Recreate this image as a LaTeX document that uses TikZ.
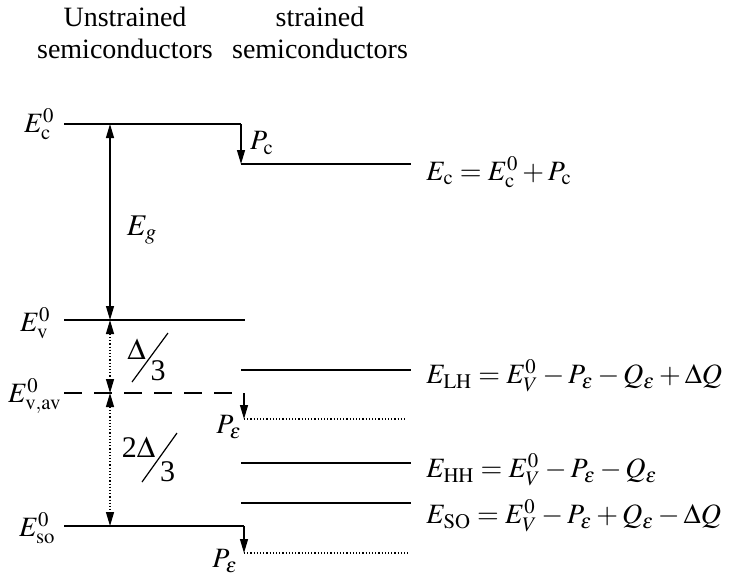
\documentclass[tikz,border=0pt]{standalone}
\usepackage{mathptmx}
\usepackage{fontspec}
\setmainfont{Liberation Serif}
\usetikzlibrary{arrows.meta}

\begin{document}
\begin{tikzpicture}[x=0.5pt,y=-0.5pt,>={Triangle[length=7pt,width=4pt]},
 band/.style={line width=1pt},
 pshift/.style={line width=.6pt,->},
 dotline/.style={line width=.6pt,densely dotted},
 hdr/.style={align=center,font=\fontsize{14}{16}\selectfont,inner sep=0pt},
 lbl/.style={font=\fontsize{14}{16}\selectfont,inner sep=0pt},
 big/.style={font=\fontsize{15}{17}\selectfont,inner sep=0pt},
 eqn/.style={lbl,anchor=west}]
\useasboundingbox (0,0) rectangle (753,579);
\node[hdr] (unstr) at (125,33) {Unstrained\\semiconductors};
\node[hdr] (str) at (320,33) {strained\\semiconductors};
% unstrained levels
\coordinate (c0L) at (64,124); \coordinate (c0R) at (241,124);
\coordinate (v0L) at (64,320); \coordinate (v0R) at (245,320);
\coordinate (avL) at (64,393); \coordinate (avR) at (240,393);
\coordinate (so0L) at (64,526); \coordinate (so0R) at (244,526);
% strained levels
\coordinate (cL) at (241,164); \coordinate (cR) at (411,164);
\coordinate (lhL) at (241,370); \coordinate (lhR) at (411,370);
\coordinate (hhL) at (241,463); \coordinate (hhR) at (411,463);
\coordinate (soL) at (241,503); \coordinate (soR) at (411,503);
\coordinate (p1L) at (244,419); \coordinate (p1R) at (405,419);
\coordinate (p2L) at (244,553); \coordinate (p2R) at (410,553);
% gap markers
\coordinate (gc) at (110,124); \coordinate (gv) at (110,320);
\coordinate (gav) at (110,393); \coordinate (gso) at (110,526);
\coordinate (avS) at (244,393);

\draw[band] (c0L) -- (c0R);
\draw[pshift] (c0R) -- (cL);
\draw[band] (cL) -- (cR);
\draw[band] (v0L) -- (v0R);
\draw[band,dash pattern=on 9pt off 6pt] (avL) -- (avR);
\draw[pshift] (avS) -- (p1L);
\draw[dotline] (p1L) -- (p1R);
\draw[band] (so0L) -- (so0R);
\draw[pshift] (so0R) -- (p2L);
\draw[dotline] (p2L) -- (p2R);
\draw[band] (lhL) -- (lhR);
\draw[band] (hhL) -- (hhR);
\draw[band] (soL) -- (soR);

\draw[line width=.6pt,<->] (gc) -- (gv);
\draw[dotline,<->] (gv) -- (gav);
\draw[dotline,<->] (gav) -- (gso);

\node[lbl,anchor=east] (ec0) at (55,124) {$E_{\mathrm{c}}^{0}$};
\node[lbl,anchor=east] (ev0) at (51,323) {$E_{\mathrm{v}}^{0}$};
\node[lbl,anchor=east] (eav0) at (62,396) {$E_{\mathrm{v,av}}^{0}$};
\node[lbl,anchor=east] (eso0) at (56,528) {$E_{\mathrm{so}}^{0}$};
\node[big] (eg) at (142,230) {$E_{g}$};
% split fractions
\node[big] (d3a) at (136.5,349.5) {$\Delta$};
\node[big] (d3b) at (158,371) {3};
\coordinate (d3lo) at (132,382); \coordinate (d3hi) at (168,333);
\draw[line width=.6pt] (d3lo) -- (d3hi);
\node[big] (d23a) at (138.5,447) {2$\Delta$};
\node[big] (d23b) at (167.5,472) {3};
\coordinate (d23lo) at (142,482); \coordinate (d23hi) at (177,433);
\draw[line width=.6pt] (d23lo) -- (d23hi);
\node[lbl] (pc) at (262,143) {$P_{\mathrm{c}}$};
\node[lbl] (pe1) at (229,427) {$P_{\varepsilon}$};
\node[lbl] (pe2) at (225,561) {$P_{\varepsilon}$};

\node[eqn] (eqc) at (426,172) {$E_{\mathrm{c}} = E_{\mathrm{c}}^{0} + P_{\mathrm{c}}$};
\node[eqn] (eqlh) at (426,376) {$E_{\mathrm{LH}} = E_{V}^{0} - P_{\varepsilon} - Q_{\varepsilon} + \Delta Q$};
\node[eqn] (eqhh) at (426,470) {$E_{\mathrm{HH}} = E_{V}^{0} - P_{\varepsilon} - Q_{\varepsilon}$};
\node[eqn] (eqso) at (426,516) {$E_{\mathrm{SO}} = E_{V}^{0} - P_{\varepsilon} + Q_{\varepsilon} - \Delta Q$};
\end{tikzpicture}
\end{document}
